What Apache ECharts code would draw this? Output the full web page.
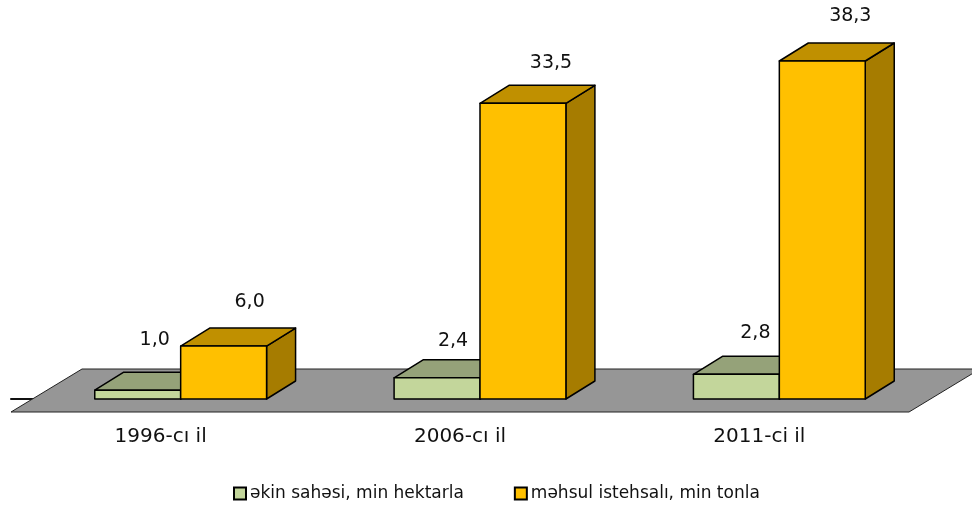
<!DOCTYPE html>
<html lang="az">
<head>
    <meta charset="UTF-8">
    <title>Əkin sahəsi və məhsul istehsalı</title>
    <script src="https://cdn.jsdelivr.net/npm/echarts@6/dist/echarts.min.js"></script>
    <style>
        html, body { margin: 0; padding: 0; background: #fff; }
        #main { width: 972px; height: 505px; }
    </style>
</head>
<body>
<div id="main"></div>
<script>
    var categories = ['1996-cı il', '2006-cı il', '2011-ci il'];
    var areaName = 'əkin sahəsi, min hektarla';
    var outputName = 'məhsul istehsalı, min tonla';
    var areaValues = [1.0, 2.4, 2.8];
    var outputValues = [6.0, 33.5, 38.3];

    var FONT = '"DejaVu Sans", sans-serif';
    var DEPTH_X = 29, DEPTH_Y = 18;
    var BAR_SHIFT = 20;   // bars sit right of the band centre
    var BAR_SHARE = 0.287;

    function toPairs(values) {
        return values.map(function (v, i) { return [i, v]; });
    }

    // box face colours, then how far the label sits from the back top corner
    function boxRenderer(front, top, side, side0, nudges) {
        return function (params, api) {
            var i = api.value(0);
            var base = api.coord([i, 0]);
            var head = api.coord([i, api.value(1)]);
            var w = api.size([1, 0])[0] * BAR_SHARE;
            var x0 = base[0] + BAR_SHIFT + side0 * w;
            var x1 = x0 + w;
            var y0 = base[1], y1 = head[1];
            var line = { stroke: '#000', lineWidth: 1.5, lineJoin: 'round' };
            function face(points, color) {
                return {
                    type: 'polygon',
                    shape: { points: points },
                    style: Object.assign({ fill: color }, line)
                };
            }
            return {
                type: 'group',
                children: [
                    face([[x1, y0], [x1 + DEPTH_X, y0 - DEPTH_Y], [x1 + DEPTH_X, y1 - DEPTH_Y], [x1, y1]], side),
                    face([[x0, y1], [x0 + DEPTH_X, y1 - DEPTH_Y], [x1 + DEPTH_X, y1 - DEPTH_Y], [x1, y1]], top),
                    face([[x0, y0], [x1, y0], [x1, y1], [x0, y1]], front),
                    {
                        type: 'text',
                        style: {
                            text: api.value(1).toFixed(1).replace('.', ','),
                            x: x0 + w / 2 + nudges[i][0],
                            y: y1 - DEPTH_Y - nudges[i][1],
                            align: 'center',
                            verticalAlign: 'middle',
                            fill: '#111',
                            font: '19px ' + FONT
                        }
                    }
                ]
            };
        };
    }

    function floorRenderer(params, api) {
        var g = params.coordSys;
        var frontY = g.y + g.height + 13, backY = g.y + g.height - 30;
        var left = g.x, right = g.x + g.width;
        return {
            type: 'polygon',
            shape: { points: [[left, frontY], [right, frontY], [right + 71, backY], [left + 71, backY]] },
            style: { fill: '#969696', stroke: '#222', lineWidth: 1 }
        };
    }

    var myChart = echarts.init(document.getElementById('main'));

    var option = {
        backgroundColor: '#fff',
        animation: false,
        grid: { left: 11, right: 63, top: 46, bottom: 106 },
        legend: {
            data: [areaName, outputName],
            left: 228,
            top: 480,
            itemWidth: 12,
            itemHeight: 12,
            itemGap: 50,
            icon: 'rect',
            textStyle: { fontFamily: FONT, fontSize: 17, color: '#111', padding: [0, 0, 0, -1] }
        },
        xAxis: {
            type: 'category',
            data: categories,
            offset: 13,
            axisLine: { lineStyle: { color: '#111', width: 2 } },
            axisTick: { length: 7, lineStyle: { color: '#111' } },
            axisLabel: { fontFamily: FONT, fontSize: 20, color: '#111', margin: 15 }
        },
        yAxis: { type: 'value', min: 0, max: 40, show: false },
        series: [
            {
                name: 'floor',
                type: 'custom',
                silent: true,
                renderItem: floorRenderer,
                data: [[0, 0]],
                encode: { x: 0, y: 1 },
                z: 1
            },
            {
                name: areaName,
                type: 'custom',
                renderItem: boxRenderer('#C3D69B', '#95A279', '#95A279', -1, [[17, 32], [16, 19], [19, 23]]),
                data: toPairs(areaValues),
                encode: { x: 0, y: 1 },
                itemStyle: { color: '#C3D69B', borderColor: '#000', borderWidth: 2 },
                z: 2
            },
            {
                name: outputName,
                type: 'custom',
                renderItem: boxRenderer('#FFC000', '#C09000', '#A67C00', 0, [[26, 26], [28, 22], [28, 27]]),
                data: toPairs(outputValues),
                encode: { x: 0, y: 1 },
                itemStyle: { color: '#FFC000', borderColor: '#000', borderWidth: 2 },
                z: 3
            }
        ]
    };

    myChart.setOption(option);
</script>
</body>
</html>
